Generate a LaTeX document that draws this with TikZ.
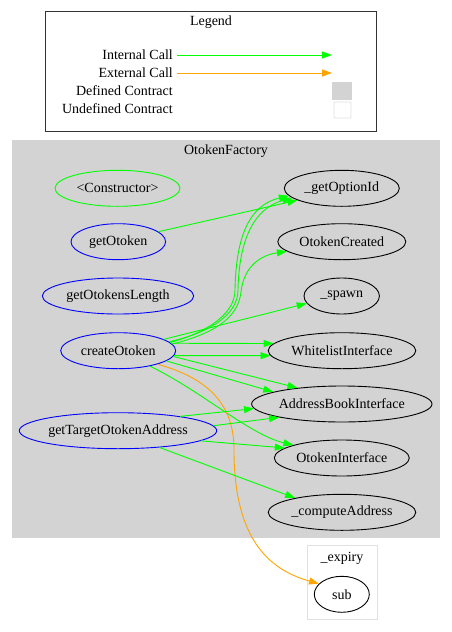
\documentclass[tikz,border=0pt]{standalone}
\usepackage{fontspec}
\setmainfont{Liberation Serif}
\usetikzlibrary{shapes.geometric,arrows.meta}
\definecolor{gvgreen}{RGB}{0,255,0}
\definecolor{gvblue}{RGB}{0,0,255}
\definecolor{gvorange}{RGB}{255,165,0}
\definecolor{gvgray}{RGB}{211,211,211}
\definecolor{gvlight}{RGB}{225,225,225}
\begin{document}
\begin{tikzpicture}[x=1pt,y=-1pt,
  font=\fontsize{14}{16}\selectfont,
  fn/.style={ellipse, draw, line width=0.9pt, minimum height=36pt, inner sep=0pt},
  pub/.style={fn, draw=gvblue},
  ctorst/.style={fn, draw=gvgreen},
  tgt/.style={fn, draw=black},
  call/.style={draw=gvgreen, line width=0.9pt, -{Triangle[length=10pt,width=7pt]}},
  ext/.style={draw=gvorange, line width=0.9pt, -{Triangle[length=10pt,width=7pt]}},
  lbl/.style={anchor=east, inner sep=0pt}
]
\useasboundingbox (0,0) rectangle (452,632);
\fill[white] (0,0) rectangle (452,632);

% legend
\draw[black!80, line width=0.9pt] (45,11) rectangle (376,131);
\node (legtitle) at (211,22) {Legend};
\node[lbl] (lint) at (173,55) {Internal Call};
\node[lbl] (lext) at (173,73) {External Call};
\node[lbl] (ldef) at (173,91) {Defined Contract};
\node[lbl] (lund) at (173,109) {Undefined Contract};
\coordinate (ia) at (177,55);
\coordinate (ib) at (332,55);
\coordinate (ea) at (177,73);
\coordinate (eb) at (332,73);
\draw[call] (ia) -- (ib);
\draw[ext] (ea) -- (eb);
\fill[gvgray] (332,82) rectangle (352,100);
\draw[gvlight, line width=0.9pt, rounded corners=1pt] (334,102) rectangle (351,118);

% clusters
\fill[gvgray] (12,140) rectangle (440,538);
\node (cltitle) at (226,151.5) {OtokenFactory};
\draw[gvlight, line width=0.9pt] (307.3,545.7) rectangle (377.3,619.3);
\node (extitle) at (342,558) {\_expiry};

% nodes
\node[ctorst, minimum width=125pt] (ctor) at (117.5,188.3) {<Constructor>};
\node[pub, minimum width=94.6pt] (go) at (118.3,241.7) {getOtoken};
\node[pub, minimum width=151.4pt] (gol) at (118,296) {getOtokensLength};
\node[pub, minimum width=115pt] (co) at (118.2,350.7) {createOtoken};
\node[pub, minimum width=197.4pt] (gt) at (118,430.7) {getTargetOtokenAddress};

\node[tgt, minimum width=115pt] (gid) at (341.8,188.3) {\_getOptionId};
\node[tgt, minimum width=128pt] (oc) at (341.8,241.7) {OtokenCreated};
\node[tgt, minimum width=75.4pt] (sp) at (341.7,296) {\_spawn};
\node[tgt, minimum width=147.6pt] (wl) at (342,350.7) {WhitelistInterface};
\node[tgt, minimum width=180.4pt] (ab) at (341.8,404) {AddressBookInterface};
\node[tgt, minimum width=135pt] (oi) at (341.8,458) {OtokenInterface};
\node[tgt, minimum width=147.6pt] (ca) at (342,512.3) {\_computeAddress};
\node[tgt, minimum width=55pt] (sub) at (341.8,594.3) {sub};

% edges
\draw[call] (go.14) -- (gid.195);
\draw[call] (co.9) .. controls (205,333) and (235,315) .. (235,290)
  .. controls (236,235) and (250,205) .. (gid.188);
\draw[call] (co.10) .. controls (209,333) and (238,315) .. (238,290)
  .. controls (239,238) and (255,208) .. (gid.191);
\draw[call] (co.7) .. controls (215,333) and (238,318) .. (241,292)
  .. controls (244,265) and (262,255) .. (oc.190);
\draw[call] (co.14) -- (sp.192);
\draw[call] (co.8) -- (wl.174);
\draw[call] (co.-5) -- (wl.184);
\draw[call] (co.-6) -- (ab.160);
\draw[call] (co.-12) -- (ab.170);
\draw[call] (co.-26) .. controls (200,390) and (250,435) .. (oi.165);
\draw[ext] (co.-19) .. controls (215,380) and (234,410) .. (234,450)
  .. controls (234,530) and (262,568) .. (sub.155);
\draw[call] (gt.13) -- (ab.183);
\draw[call] (gt.3) -- (ab.192);
\draw[call] (gt.-7) -- (oi.170);
\draw[call] (gt.-22) -- (ca.163);
\end{tikzpicture}
\end{document}
